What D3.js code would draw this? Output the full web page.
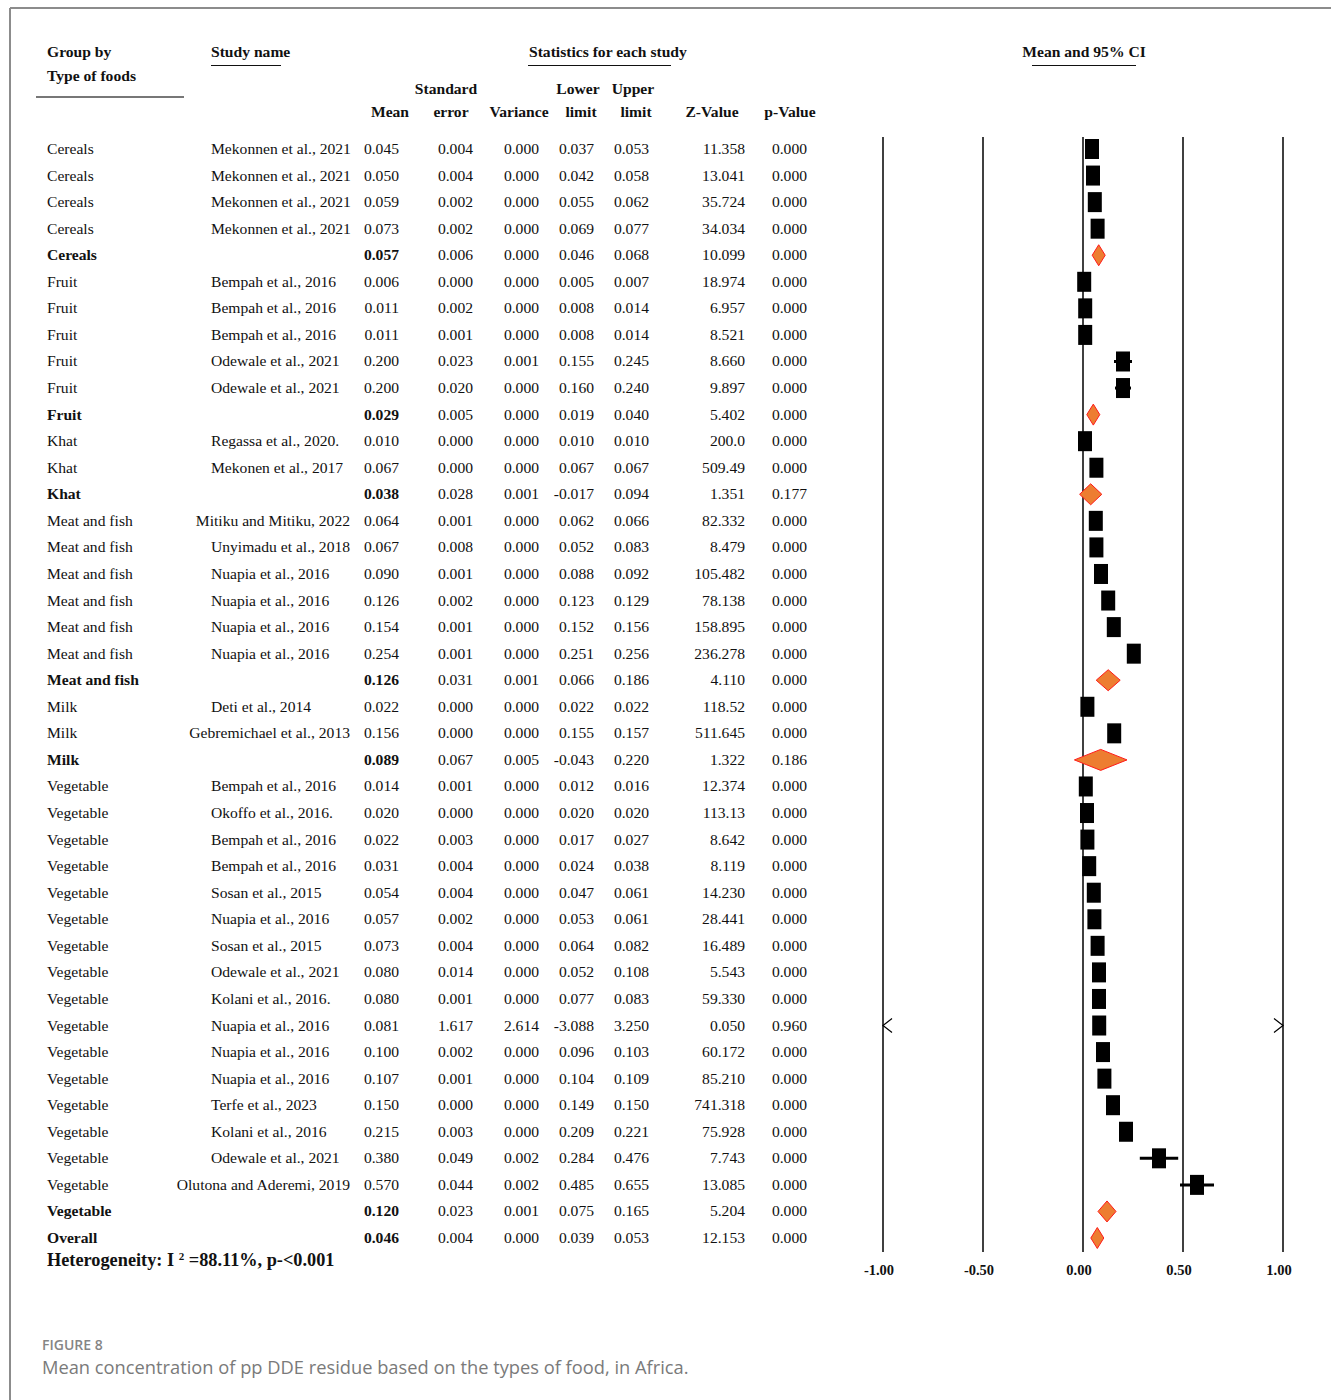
<!DOCTYPE html>
<html lang="en">
<head>
    <meta charset="UTF-8">
    <title>Forest plot</title>
    <script src="https://d3js.org/d3.v7.min.js"></script>
    <style>
        body { margin: 0; background: #fff; }
        svg text { font-family: "Liberation Serif", "Times New Roman", serif; fill: #111; }
        svg .caption { font-family: "Open Sans", sans-serif; fill: #858585; }
    </style>
</head>
<body>
    <div id="chart"></div>
    <script>
        // one entry per row, summary rows have an empty study name
        var groups = ["Cereals", "Cereals", "Cereals", "Cereals", "Cereals",
            "Fruit", "Fruit", "Fruit", "Fruit", "Fruit", "Fruit",
            "Khat", "Khat", "Khat",
            "Meat and fish", "Meat and fish", "Meat and fish", "Meat and fish", "Meat and fish", "Meat and fish", "Meat and fish",
            "Milk", "Milk", "Milk",
            "Vegetable", "Vegetable", "Vegetable", "Vegetable", "Vegetable", "Vegetable", "Vegetable", "Vegetable",
            "Vegetable", "Vegetable", "Vegetable", "Vegetable", "Vegetable", "Vegetable", "Vegetable", "Vegetable", "Vegetable",
            "Overall"];
        var studies = ["Mekonnen et al., 2021", "Mekonnen et al., 2021", "Mekonnen et al., 2021", "Mekonnen et al., 2021", "",
            "Bempah et al., 2016", "Bempah et al., 2016", "Bempah et al., 2016", "Odewale et al., 2021", "Odewale et al., 2021", "",
            "Regassa et al., 2020.", "Mekonen et al., 2017", "",
            "Mitiku and Mitiku, 2022", "Unyimadu et al., 2018", "Nuapia et al., 2016", "Nuapia et al., 2016", "Nuapia et al., 2016", "Nuapia et al., 2016", "",
            "Deti et al., 2014", "Gebremichael et al., 2013", "",
            "Bempah et al., 2016", "Okoffo et al., 2016.", "Bempah et al., 2016", "Bempah et al., 2016", "Sosan et al., 2015",
            "Nuapia et al., 2016", "Sosan et al., 2015", "Odewale et al., 2021", "Kolani et al., 2016.", "Nuapia et al., 2016",
            "Nuapia et al., 2016", "Nuapia et al., 2016", "Terfe et al., 2023", "Kolani et al., 2016", "Odewale et al., 2021",
            "Olutona and Aderemi, 2019", "",
            ""];
        var means = [0.045, 0.050, 0.059, 0.073, 0.057,
            0.006, 0.011, 0.011, 0.200, 0.200, 0.029,
            0.010, 0.067, 0.038,
            0.064, 0.067, 0.090, 0.126, 0.154, 0.254, 0.126,
            0.022, 0.156, 0.089,
            0.014, 0.020, 0.022, 0.031, 0.054, 0.057, 0.073, 0.080, 0.080, 0.081, 0.100, 0.107, 0.150, 0.215, 0.380, 0.570, 0.120,
            0.046];
        var stdErrors = [0.004, 0.004, 0.002, 0.002, 0.006,
            0.000, 0.002, 0.001, 0.023, 0.020, 0.005,
            0.000, 0.000, 0.028,
            0.001, 0.008, 0.001, 0.002, 0.001, 0.001, 0.031,
            0.000, 0.000, 0.067,
            0.001, 0.000, 0.003, 0.004, 0.004, 0.002, 0.004, 0.014, 0.001, 1.617, 0.002, 0.001, 0.000, 0.003, 0.049, 0.044, 0.023,
            0.004];
        var variances = [0.000, 0.000, 0.000, 0.000, 0.000,
            0.000, 0.000, 0.000, 0.001, 0.000, 0.000,
            0.000, 0.000, 0.001,
            0.000, 0.000, 0.000, 0.000, 0.000, 0.000, 0.001,
            0.000, 0.000, 0.005,
            0.000, 0.000, 0.000, 0.000, 0.000, 0.000, 0.000, 0.000, 0.000, 2.614, 0.000, 0.000, 0.000, 0.000, 0.002, 0.002, 0.001,
            0.000];
        var lowers = [0.037, 0.042, 0.055, 0.069, 0.046,
            0.005, 0.008, 0.008, 0.155, 0.160, 0.019,
            0.010, 0.067, -0.017,
            0.062, 0.052, 0.088, 0.123, 0.152, 0.251, 0.066,
            0.022, 0.155, -0.043,
            0.012, 0.020, 0.017, 0.024, 0.047, 0.053, 0.064, 0.052, 0.077, -3.088, 0.096, 0.104, 0.149, 0.209, 0.284, 0.485, 0.075,
            0.039];
        var uppers = [0.053, 0.058, 0.062, 0.077, 0.068,
            0.007, 0.014, 0.014, 0.245, 0.240, 0.040,
            0.010, 0.067, 0.094,
            0.066, 0.083, 0.092, 0.129, 0.156, 0.256, 0.186,
            0.022, 0.157, 0.220,
            0.016, 0.020, 0.027, 0.038, 0.061, 0.061, 0.082, 0.108, 0.083, 3.250, 0.103, 0.109, 0.150, 0.221, 0.476, 0.655, 0.165,
            0.053];
        var zValues = ["11.358", "13.041", "35.724", "34.034", "10.099",
            "18.974", "6.957", "8.521", "8.660", "9.897", "5.402",
            "200.0", "509.49", "1.351",
            "82.332", "8.479", "105.482", "78.138", "158.895", "236.278", "4.110",
            "118.52", "511.645", "1.322",
            "12.374", "113.13", "8.642", "8.119", "14.230", "28.441", "16.489", "5.543", "59.330", "0.050", "60.172",
            "85.210", "741.318", "75.928", "7.743", "13.085", "5.204",
            "12.153"];
        var pValues = [0.000, 0.000, 0.000, 0.000, 0.000,
            0.000, 0.000, 0.000, 0.000, 0.000, 0.000,
            0.000, 0.000, 0.177,
            0.000, 0.000, 0.000, 0.000, 0.000, 0.000, 0.000,
            0.000, 0.000, 0.186,
            0.000, 0.000, 0.000, 0.000, 0.000, 0.000, 0.000, 0.000, 0.000, 0.960, 0.000, 0.000, 0.000, 0.000, 0.000, 0.000, 0.000,
            0.000];
        var axisTicks = [-1, -0.5, 0, 0.5, 1];

        var width = 1331, height = 1400;
        // plain hyphen for negatives, like the original table
        var f3 = function(v) { return v.toFixed(3); };
        var f2 = function(v) { return v.toFixed(2); };

        var rows = groups.map(function(g, i) {
            return {
                group: g, study: studies[i], mean: means[i], se: stdErrors[i], variance: variances[i],
                lower: lowers[i], upper: uppers[i], z: zValues[i], p: pValues[i],
                summary: studies[i] === "", index: i
            };
        });

        var svg = d3.select("#chart").append("svg")
            .attr("width", width)
            .attr("height", height);

        // frame
        svg.append("line").attr("x1", 10).attr("x2", width).attr("y1", 8).attr("y2", 8)
            .attr("stroke", "#8c8c8c").attr("stroke-width", 2);
        svg.append("line").attr("x1", 10).attr("x2", 10).attr("y1", 8).attr("y2", height)
            .attr("stroke", "#8c8c8c").attr("stroke-width", 2);

        var y = d3.scaleLinear().domain([0, rows.length - 1]).range([149, 1238]);
        var x = d3.scaleLinear().domain([-1, 1]).range([883, 1283]);

        // header
        var head = svg.append("g").style("font-weight", "bold").style("font-size", "15.6px");
        function headText(t, px, py, anchor) {
            head.append("text").attr("x", px).attr("y", py).attr("text-anchor", anchor || "start").text(t);
        }
        headText("Group by", 47, 57);
        headText("Type of foods", 47, 81);
        headText("Study name", 211, 57);
        headText("Statistics for each study", 529, 57);
        headText("Mean and 95% CI", 1084, 57, "middle");
        headText("Standard", 446, 94, "middle");
        headText("Lower", 578, 94, "middle");
        headText("Upper", 633, 94, "middle");
        headText("Mean", 390, 117, "middle");
        headText("error", 451, 117, "middle");
        headText("Variance", 519, 117, "middle");
        headText("limit", 581, 117, "middle");
        headText("limit", 636, 117, "middle");
        headText("Z-Value", 712, 117, "middle");
        headText("p-Value", 790, 117, "middle");

        svg.append("line").attr("x1", 36).attr("x2", 184).attr("y1", 97).attr("y2", 97)
            .attr("stroke", "#777").attr("stroke-width", 2);
        [[211, 281], [528, 671], [1032, 1136]].forEach(function(s) {
            svg.append("line").attr("x1", s[0]).attr("x2", s[1]).attr("y1", 65.5).attr("y2", 65.5)
                .attr("stroke", "#111").attr("stroke-width", 1.2);
        });

        // table rows
        var table = svg.append("g").style("font-size", "15.6px");
        var rowG = table.selectAll(".row")
            .data(rows)
            .enter().append("g")
            .attr("class", "row")
            .attr("transform", function(d) { return "translate(0," + (y(d.index) + 5) + ")"; });

        rowG.append("text").attr("x", 47)
            .style("font-weight", function(d) { return d.summary ? "bold" : null; })
            .text(function(d) { return d.group; });

        rowG.append("text")
            .attr("x", 211)
            .text(function(d) { return d.study; })
            .each(function() {
                var w = this.getComputedTextLength();
                if (211 + w > 353) d3.select(this).attr("x", 350 - w);
            });

        var cols = [
            { key: "mean", x: 399, fmt: f3 },
            { key: "se", x: 473, fmt: f3 },
            { key: "variance", x: 539, fmt: f3 },
            { key: "lower", x: 594, fmt: f3 },
            { key: "upper", x: 649, fmt: f3 },
            { key: "z", x: 745, fmt: function(v) { return v; } },
            { key: "p", x: 807, fmt: f3 }
        ];
        cols.forEach(function(c) {
            rowG.append("text")
                .attr("x", c.x)
                .attr("text-anchor", "end")
                .style("font-weight", function(d) { return d.summary && c.key === "mean" ? "bold" : null; })
                .text(function(d) { return c.fmt(d[c.key]); });
        });

        // forest plot grid
        var plot = svg.append("g");
        plot.selectAll(".grid")
            .data(axisTicks)
            .enter().append("line")
            .attr("x1", function(d) { return x(d); })
            .attr("x2", function(d) { return x(d); })
            .attr("y1", 137).attr("y2", 1252)
            .attr("stroke", "#000").attr("stroke-width", 1.5);

        plot.selectAll(".tick")
            .data(axisTicks)
            .enter().append("text")
            .attr("x", function(d) { return x(d) - 4; })
            .attr("y", 1275)
            .attr("text-anchor", "middle")
            .style("font-weight", "bold").style("font-size", "14.5px")
            .text(f2);

        var studyRows = rows.filter(function(d) { return !d.summary; });
        var sumRows = rows.filter(function(d) { return d.summary; });
        var xMin = x.domain()[0], xMax = x.domain()[1];

        // CI lines, clipped to the axis range
        plot.selectAll(".ci")
            .data(studyRows.filter(function(d) { return d.lower >= xMin && d.upper <= xMax; }))
            .enter().append("line")
            .attr("x1", function(d) { return x(d.lower); })
            .attr("x2", function(d) { return x(d.upper); })
            .attr("y1", function(d) { return y(d.index); })
            .attr("y2", function(d) { return y(d.index); })
            .attr("stroke", "#000").attr("stroke-width", 3);

        // arrows where the CI runs off the axis
        var offRows = studyRows.filter(function(d) { return d.lower < xMin || d.upper > xMax; });
        offRows.forEach(function(d) {
            var cy = y(d.index);
            if (d.lower < xMin) {
                plot.append("path")
                    .attr("d", "M" + (x(xMin) + 9) + "," + (cy - 7) + "L" + x(xMin) + "," + cy + "L" + (x(xMin) + 9) + "," + (cy + 7))
                    .attr("fill", "none").attr("stroke", "#000").attr("stroke-width", 1.2);
            }
            if (d.upper > xMax) {
                plot.append("path")
                    .attr("d", "M" + (x(xMax) - 9) + "," + (cy - 7) + "L" + x(xMax) + "," + cy + "L" + (x(xMax) - 9) + "," + (cy + 7))
                    .attr("fill", "none").attr("stroke", "#000").attr("stroke-width", 1.2);
            }
        });

        // point estimates
        plot.selectAll(".box")
            .data(studyRows)
            .enter().append("rect")
            .attr("x", function(d) { return x(d.mean) - 7; })
            .attr("y", function(d) { return y(d.index) - 10; })
            .attr("width", 14)
            .attr("height", 20)
            .attr("fill", "#000");

        // summary diamonds
        plot.selectAll(".diamond")
            .data(sumRows)
            .enter().append("path")
            .attr("d", function(d) {
                var x0 = x(d.lower), x1 = Math.max(x(d.upper), x0 + 13);
                var xm = (x0 + x1) / 2, cy = y(d.index);
                return "M" + x0 + "," + cy + "L" + xm + "," + (cy - 10.5) + "L" + x1 + "," + cy + "L" + xm + "," + (cy + 10.5) + "Z";
            })
            .attr("fill", "#ED7D31")
            .attr("stroke", "#FF1A1A")
            .attr("stroke-width", 1);

        // heterogeneity note
        var het = svg.append("text").attr("x", 47).attr("y", 1266)
            .style("font-weight", "bold").style("font-size", "18.3px");
        het.append("tspan").text("Heterogeneity: I ");
        het.append("tspan").attr("dy", -6).style("font-size", "11px").text("2");
        het.append("tspan").attr("dy", 6).text(" =88.11%, p-<0.001");

        // caption
        svg.append("text").attr("class", "caption").attr("x", 42).attr("y", 1350)
            .style("font-size", "14px").style("font-weight", "600").text("FIGURE 8");
        svg.append("text").attr("class", "caption").attr("x", 42).attr("y", 1374)
            .style("font-size", "18.3px").style("fill", "#7a7a7a")
            .text("Mean concentration of pp DDE residue based on the types of food, in Africa.");
    </script>
</body>
</html>
